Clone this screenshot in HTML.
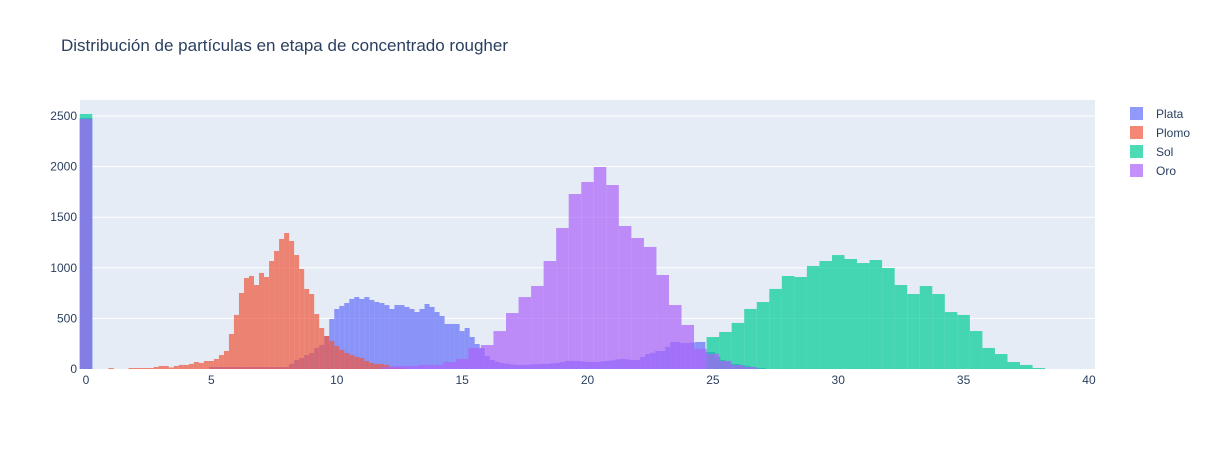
<!DOCTYPE html>
<html><head><meta charset="utf-8"><style>
body{margin:0;background:#fff;font-family:"Liberation Sans",Arial,sans-serif}
svg text{font-family:"Liberation Sans",Arial,sans-serif;fill:#2a3f5f}
</style></head><body>
<svg id="chart" width="1209" height="450" xmlns="http://www.w3.org/2000/svg">
<rect width="1209" height="450" fill="#fff"/>
<text x="61" y="51" font-size="17">Distribución de partículas en etapa de concentrado rougher</text>
<rect x="80" y="100" width="1015" height="269" fill="#e5ecf6"/>
<g id="grid"></g><g id="bars"></g><g id="axes"></g>
<g id="legend"></g>
</svg>
<script>
const xTicks=[0,5,10,15,20,25,30,35,40];
const yTicks=[0,500,1000,1500,2000,2500];
const seriesNames=["Plata","Plomo","Sol","Oro"];
const seriesColors=["#636efa","#EF553B","#00cc96","#ab63fa"];
const zeroCounts=[2480,0,2520,2470];
const binStarts=[4.9,0.9,24.75,11.75];
const binSizes=[0.2,0.2,0.5,0.5];
const plataCounts=[20,20,20,20,20,20,20,20,20,20,20,20,20,20,20,20,50,89,109,138,158,208,237,326,
494,593,623,652,692,711,692,711,682,662,652,632,593,632,632,613,593,563,593,642,613,563,524,445,445,445,375,405,316,247,208,
128,90,70,59,52,45,40,40,42,45,47,50,50,55,60,70,80,80,80,75,70,69,69,75,80,85,95,99,95,89,89,120,148,160,178,178,220,267,267,257,257,262,267,267,168,168,120,89,70,49,49,35,30,20,10,10];
const plomoCounts=[10,0,0,0,10,10,10,10,10,20,30,30,15,30,40,40,50,69,60,79,79,99,138,178,346,534,751,899,919,830,949,909,1067,1166,1285,1344,1265,1126,988,791,741,543,405,326,277,227,188,158,138,119,109,79,59,49,49,40,20,10,10];
const solCounts=[316,366,455,593,662,791,919,909,1018,1067,1126,1087,1047,1077,998,830,741,820,741,563,534,375,208,148,69,40,10];
const oroCounts=[20,30,30,40,40,69,99,208,237,375,553,711,820,1067,1393,1729,1848,1996,1818,1413,1294,1206,929,632,435,200,150,80,40,20];
const allCounts=[plataCounts,plomoCounts,solCounts,oroCounts];

const X0=80,X1=1095,Y0=369,Y1=100,xmin=-0.24,xmax=40.24,ymax=2658;
const xs=v=>X0+(v-xmin)/(xmax-xmin)*(X1-X0);
const ys=v=>Y0-v/ymax*(Y0-Y1);
const NS="http://www.w3.org/2000/svg";
function mk(tag,attrs,parent){const e=document.createElementNS(NS,tag);for(const k in attrs)e.setAttribute(k,attrs[k]);parent.appendChild(e);return e;}
const grid=document.getElementById('grid'),bars=document.getElementById('bars'),axes=document.getElementById('axes'),legend=document.getElementById('legend');
yTicks.forEach(t=>{
  if(t>0){const l=mk('line',{x1:X0,x2:X1,y1:ys(t),y2:ys(t),stroke:'#fff','stroke-width':1},grid);
  
  }
  const tx=mk('text',{x:77,y:ys(t)+4,'font-size':12,'text-anchor':'end'},axes);tx.textContent=t;
  
  
});
xTicks.forEach(t=>{
  const tx=mk('text',{x:xs(t),y:384,'font-size':12,'text-anchor':'middle'},axes);tx.textContent=t;
  
  
});
allCounts.forEach((arr,si)=>{
  const g=mk('g',{},bars);
  
  
  const col=seriesColors[si];
  if(zeroCounts[si]>0){
    const r=mk('rect',{x:xs(-0.25),width:xs(0.25)-xs(-0.25),y:ys(zeroCounts[si]),height:Y0-ys(zeroCounts[si]),fill:col,'fill-opacity':0.7},g);
    
    
  }
  arr.forEach((c,i)=>{
    if(c<=0)return;
    const a=binStarts[si]+i*binSizes[si],b=a+binSizes[si];
    const r=mk('rect',{x:xs(a),width:xs(b)-xs(a),y:ys(c),height:Y0-ys(c),fill:col,'fill-opacity':0.7},g);
    
    
  });
});
seriesNames.forEach((n,i)=>{
  const y=114+i*19;
  const g=mk('g',{},legend);
  
  
  mk('rect',{x:1130,y:y-7,width:13,height:13,fill:seriesColors[i],'fill-opacity':0.7},g);
  const t=mk('text',{x:1156,y:y+4,'font-size':12},g);t.textContent=n;
});
</script>
</body></html>
